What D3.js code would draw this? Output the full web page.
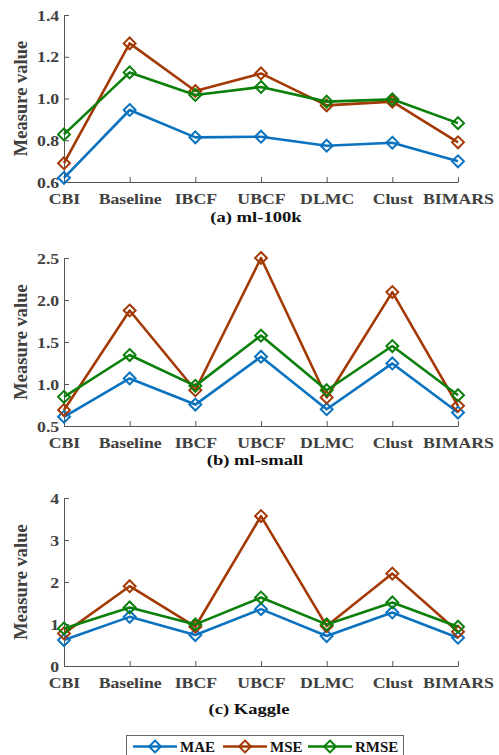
<!DOCTYPE html>
<html>
<head>
<meta charset="utf-8">
<script src="https://cdn.jsdelivr.net/npm/d3@7"></script>
<style>
  body { margin: 0; background: #fff; }
  svg text { font-family: 'Liberation Serif', 'Times New Roman', Times, serif; font-weight: bold; }
</style>
</head>
<body>
<div id="chart"></div>
<script>
// categories shared by all three panels
const methods = ['CBI', 'Baseline', 'IBCF', 'UBCF', 'DLMC', 'Clust', 'BIMARS'];
const measures = ['MAE', 'MSE', 'RMSE'];

// (a) ml-100k
const ml100kMAE  = [0.62, 0.945, 0.814, 0.817, 0.774, 0.788, 0.699];
const ml100kMSE  = [0.69, 1.264, 1.036, 1.12, 0.967, 0.985, 0.79];
const ml100kRMSE = [0.828, 1.125, 1.017, 1.055, 0.985, 0.996, 0.882];
const ml100kTicks = [0.6, 0.8, 1.0, 1.2, 1.4];

// (b) ml-small
const mlSmallMAE  = [0.61, 1.066, 0.755, 1.325, 0.70, 1.245, 0.66];
const mlSmallMSE  = [0.69, 1.875, 0.926, 2.5, 0.84, 2.094, 0.74];
const mlSmallRMSE = [0.847, 1.345, 0.978, 1.576, 0.926, 1.452, 0.867];
const mlSmallTicks = [0.5, 1.0, 1.5, 2.0, 2.5];

// (c) Kaggle
const kaggleMAE  = [0.618, 1.17, 0.737, 1.354, 0.713, 1.275, 0.673];
const kaggleMSE  = [0.776, 1.90, 0.935, 3.57, 0.95, 2.2, 0.816];
const kaggleRMSE = [0.895, 1.394, 0.99, 1.63, 0.99, 1.513, 0.935];
const kaggleTicks = [0, 1, 2, 3, 4];

const colors = { MAE: '#0b72bf', MSE: '#a33a06', RMSE: '#0a7f0a' };
const axisColor = '#555';
const textColor = '#404040';
const stretch = 1.2; // the source figure's text is a bit wide

const panels = [
  { title: '(a) ml-100k', series: [ml100kMAE, ml100kMSE, ml100kRMSE], ticks: ml100kTicks,
    fmt: d3.format('.1f'), top: 15, bottom: 182, titleX: 256, titleY: 222 },
  { title: '(b) ml-small', series: [mlSmallMAE, mlSmallMSE, mlSmallRMSE], ticks: mlSmallTicks,
    fmt: d3.format('.1f'), top: 258, bottom: 426, titleX: 255, titleY: 465 },
  { title: '(c) Kaggle', series: [kaggleMAE, kaggleMSE, kaggleRMSE], ticks: kaggleTicks,
    fmt: d3.format('d'), top: 498, bottom: 666, titleX: 249, titleY: 714 }
];

const W = 499, H = 755;
const left = 64, right = 458;

const svg = d3.select('#chart').append('svg')
  .attr('width', W).attr('height', H);

const x = d3.scalePoint().domain(methods).range([left, right]);
const diamond = d3.symbol().type(d3.symbolDiamond2).size(90);

panels.forEach(p => {
  const [y0, y1] = d3.extent(p.ticks);
  const y = d3.scaleLinear().domain([y0, y1]).range([p.bottom, p.top]);
  const g = svg.append('g');

  // y axis, ticks inward
  const ya = g.append('g')
    .attr('transform', `translate(${left},0)`)
    .call(d3.axisLeft(y).tickValues(p.ticks).tickFormat(p.fmt).tickSizeInner(-5).tickSizeOuter(0).tickPadding(4));
  // x axis
  const xa = g.append('g')
    .attr('transform', `translate(0,${p.bottom})`)
    .call(d3.axisBottom(x).tickSizeInner(-5).tickSizeOuter(0));

  [ya, xa].forEach(a => {
    a.attr('font-family', null);
    a.select('.domain').attr('stroke', axisColor).attr('stroke-width', 1);
    a.selectAll('.tick line').attr('stroke', axisColor);
    a.selectAll('.tick text')
      .attr('fill', textColor)
      .attr('transform', `scale(${stretch},1)`)
      .style('font-size', '14.8px');
  });
  xa.selectAll('.tick text').attr('dy', null).attr('y', 22);
  ya.selectAll('.tick text').attr('dy', '0.34em');

  // y label
  g.append('text')
    .attr('transform', `translate(27,${(p.top + p.bottom) / 2}) rotate(-90)`)
    .attr('text-anchor', 'middle')
    .attr('fill', textColor)
    .style('font-size', '18.5px')
    .text('Measure value');

  // title
  g.append('text')
    .attr('transform', `translate(${p.titleX},${p.titleY}) scale(${stretch},1)`)
    .attr('text-anchor', 'middle')
    .attr('fill', '#111')
    .style('font-size', '15.5px')
    .text(p.title);

  const line = d3.line().x((d, i) => x(methods[i])).y(d => y(d));

  p.series.forEach((vals, si) => {
    const c = colors[measures[si]];
    g.append('path')
      .datum(vals)
      .attr('d', line)
      .attr('fill', 'none')
      .attr('stroke', c)
      .attr('stroke-width', 2.6)
      .attr('stroke-linejoin', 'round');
    g.selectAll(null)
      .data(vals)
      .join('path')
      .attr('transform', (d, i) => `translate(${x(methods[i])},${y(d)})`)
      .attr('d', diamond)
      .attr('fill', 'none')
      .attr('stroke', c)
      .attr('stroke-width', 2);
  });
});

// Legend
const legend = svg.append('g');
legend.append('rect')
  .attr('x', 126.5).attr('y', 735.5)
  .attr('width', 277).attr('height', 30)
  .attr('fill', '#fff')
  .attr('stroke', '#666')
  .attr('stroke-width', 1);

const legendX = [133, 223, 308];
measures.forEach((m, i) => {
  const lg = legend.append('g').attr('transform', `translate(${legendX[i]},746.5)`);
  lg.append('line')
    .attr('x1', 0).attr('x2', 44)
    .attr('stroke', colors[m]).attr('stroke-width', 2.6);
  lg.append('path')
    .attr('transform', 'translate(22,0)')
    .attr('d', diamond)
    .attr('fill', 'none')
    .attr('stroke', colors[m])
    .attr('stroke-width', 2);
  lg.append('text')
    .attr('x', 47).attr('y', 5.5)
    .attr('fill', '#111')
    .style('font-size', '15px')
    .text(m);
});
</script>
</body>
</html>
